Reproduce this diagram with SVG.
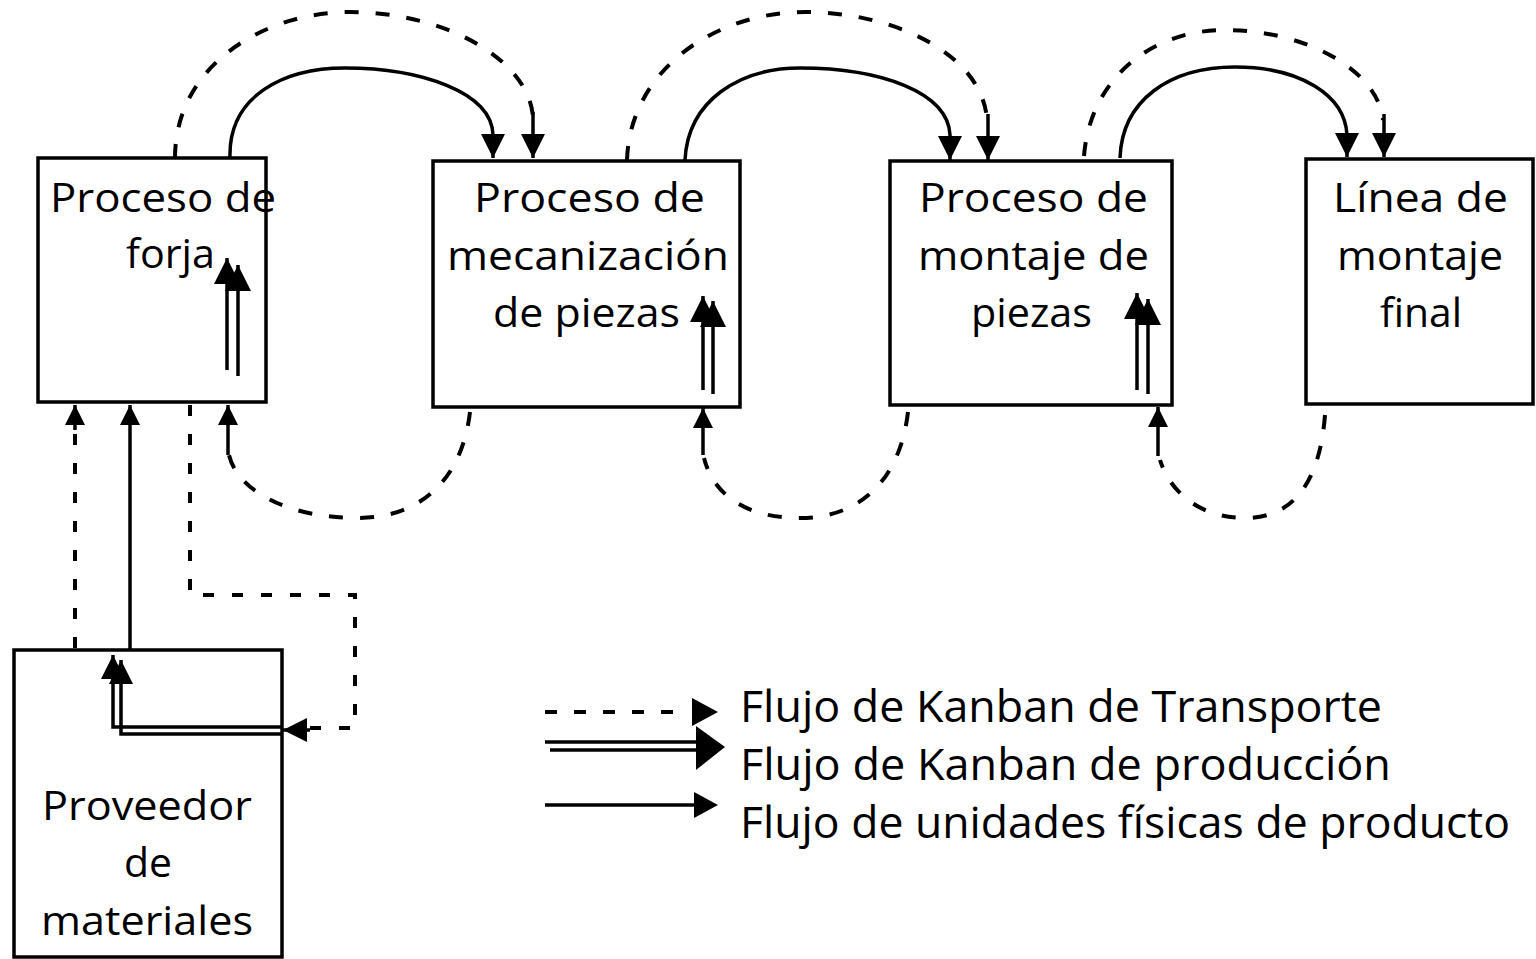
<svg xmlns="http://www.w3.org/2000/svg" width="1536" height="959" viewBox="0 0 1536 959">
<style>
.box{fill:#fff;stroke:#000;stroke-width:3.5}
.t{font-family:"Open Sans","Liberation Sans",sans-serif;font-size:41px;fill:#000}
.lg{font-family:"Open Sans","Liberation Sans",sans-serif;font-size:43px;fill:#000}
.s{fill:none;stroke:#000;stroke-width:3.5}
.d{fill:none;stroke:#000;stroke-width:4;stroke-dasharray:14 17}
.dd{fill:none;stroke:#000;stroke-width:4;stroke-dasharray:11 18}
</style>
<defs>
<marker id="ah" viewBox="0 0 10 10" refX="10" refY="5" markerUnits="userSpaceOnUse" markerWidth="25" markerHeight="24" orient="auto">
<path d="M0,0 L10,5 L0,10 z" fill="#000"/>
</marker>
<marker id="ahb" viewBox="0 0 10 10" refX="10" refY="5" markerUnits="userSpaceOnUse" markerWidth="27" markerHeight="26" orient="auto">
<path d="M0,0 L10,5 L0,10 z" fill="#000"/>
</marker>
<marker id="ahs" viewBox="0 0 10 10" refX="10" refY="5" markerUnits="userSpaceOnUse" markerWidth="21" markerHeight="20" orient="auto">
<path d="M0,0 L10,5 L0,10 z" fill="#000"/>
</marker>
</defs>

<g id="forja">
<rect class="box" x="38" y="158" width="228" height="244"/>
<text class="t" x="50" y="212" textLength="226" lengthAdjust="spacingAndGlyphs">Proceso de</text>
<text class="t" x="126" y="268" textLength="89" lengthAdjust="spacingAndGlyphs">forja</text>
</g>
<g id="mecanizacion">
<rect class="box" x="433" y="161" width="307" height="246"/>
<text class="t" x="474" y="212" textLength="231" lengthAdjust="spacingAndGlyphs">Proceso de</text>
<text class="t" x="447" y="270" textLength="282" lengthAdjust="spacingAndGlyphs">mecanización</text>
<text class="t" x="493" y="327" textLength="187" lengthAdjust="spacingAndGlyphs">de piezas</text>
</g>
<g id="montaje">
<rect class="box" x="890" y="161" width="282" height="244"/>
<text class="t" x="919" y="212" textLength="229" lengthAdjust="spacingAndGlyphs">Proceso de</text>
<text class="t" x="918" y="270" textLength="231" lengthAdjust="spacingAndGlyphs">montaje de</text>
<text class="t" x="971" y="327" textLength="121" lengthAdjust="spacingAndGlyphs">piezas</text>
</g>
<g id="final">
<rect class="box" x="1306" y="159" width="227" height="245"/>
<text class="t" x="1333" y="212" textLength="175" lengthAdjust="spacingAndGlyphs">Línea de</text>
<text class="t" x="1337" y="270" textLength="166" lengthAdjust="spacingAndGlyphs">montaje</text>
<text class="t" x="1380" y="327" textLength="82" lengthAdjust="spacingAndGlyphs">final</text>
</g>
<g id="proveedor">
<rect class="box" x="14" y="650" width="268" height="307"/>
<text class="t" x="42" y="820" textLength="210" lengthAdjust="spacingAndGlyphs">Proveedor</text>
<text class="t" x="124" y="877" textLength="48" lengthAdjust="spacingAndGlyphs">de</text>
<text class="t" x="41" y="935" textLength="212" lengthAdjust="spacingAndGlyphs">materiales</text>
</g>

<g id="connectors">
<!-- top solid arcs (physical units) -->
<path class="s" d="M230,158 C228,95 285,68 345,68 C420,68 492,92 493,135 L493,158" marker-end="url(#ah)"/>
<path class="s" d="M685,160 C688,100 740,68 800,68 C880,68 948,92 950,135 L950,160" marker-end="url(#ah)"/>
<path class="s" d="M1120,158 C1122,100 1170,67 1235,67 C1300,67 1345,95 1347,135 L1347,157" marker-end="url(#ah)"/>
<!-- top dashed arcs (transport kanban) -->
<path class="d" d="M175,158 C175,65 265,12 350,12 C445,12 530,60 533,118"/>
<path class="s" d="M533,112 L533,158" marker-end="url(#ah)"/>
<path class="d" d="M627,160 C630,70 715,12 805,12 C895,12 983,55 987,120"/>
<path class="s" d="M988,114 L988,160" marker-end="url(#ah)"/>
<path class="d" d="M1084,156 C1090,80 1150,30 1225,30 C1305,30 1378,70 1383,120"/>
<path class="s" d="M1384,114 L1384,157" marker-end="url(#ah)"/>
<!-- bottom dashed arcs -->
<path class="d" d="M470,412 C462,480 420,518 358,518 C290,518 238,492 229,455"/>
<path class="s" d="M228,455 L228,405" marker-end="url(#ahs)"/>
<path class="d" d="M908,412 C900,480 860,518 800,518 C740,518 712,490 704,458"/>
<path class="s" d="M703,455 L703,408" marker-end="url(#ahs)"/>
<path class="d" d="M1325,415 C1320,480 1295,518 1245,518 C1200,518 1170,492 1160,460"/>
<path class="s" d="M1158,456 L1158,407" marker-end="url(#ahs)"/>
<!-- production kanban inside boxes -->
<path class="s" d="M227,370 L227,258" marker-end="url(#ahb)"/>
<path class="s" d="M238,376 L238,265" marker-end="url(#ahb)"/>
<path class="s" d="M703,390 L703,296" marker-end="url(#ahb)"/>
<path class="s" d="M713,394 L713,301" marker-end="url(#ahb)"/>
<path class="s" d="M1137,390 L1137,293" marker-end="url(#ahb)"/>
<path class="s" d="M1148,394 L1148,299" marker-end="url(#ahb)"/>
<!-- supplier to forja -->
<path class="dd" d="M75,648 L75,432"/>
<path class="s" d="M75,430 L75,405" marker-end="url(#ahs)"/>
<path class="s" d="M130,650 L130,405" marker-end="url(#ahs)"/>
<path class="dd" d="M190,405 L190,595 L355,595 L355,728 L306,728"/>
<path class="s" d="M310,730 L283,730" marker-end="url(#ah)"/>
<path class="s" d="M283,727 L113,727 L113,655" marker-end="url(#ah)"/>
<path class="s" d="M283,734 L121,734 L121,660" marker-end="url(#ah)"/>
</g>

<g id="legend">
<path class="d" d="M545,712 L690,712" style="stroke-dasharray:12 17"/>
<path d="M692,698 L718,712 L692,726 z" fill="#000"/>
<path class="s" d="M545,742 L700,742"/>
<path class="s" d="M550,750 L700,750"/>
<path d="M696,726 L725,747 L696,770 z" fill="#000"/>
<path class="s" d="M545,805 L700,805"/>
<path d="M694,792 L718,805 L694,818 z" fill="#000"/>
<text class="lg" x="740" y="722" textLength="642" lengthAdjust="spacingAndGlyphs">Flujo de Kanban de Transporte</text>
<text class="lg" x="740" y="780" textLength="651" lengthAdjust="spacingAndGlyphs">Flujo de Kanban de producción</text>
<text class="lg" x="740" y="838" textLength="770" lengthAdjust="spacingAndGlyphs">Flujo de unidades físicas de producto</text>
</g>
</svg>
